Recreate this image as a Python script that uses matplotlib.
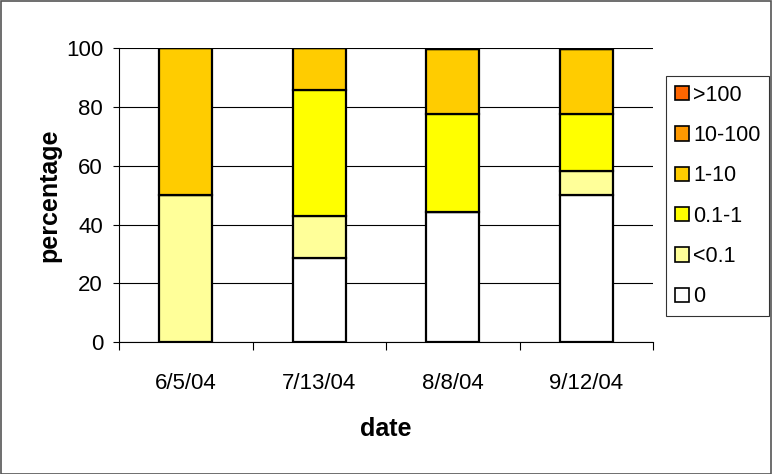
import matplotlib
matplotlib.use("Agg")
import matplotlib.pyplot as plt
from matplotlib.patches import Patch, Rectangle
import numpy as np

plt.rcParams['font.family'] = ['Liberation Sans', 'DejaVu Sans']

dates = ["6/5/04", "7/13/04", "8/8/04", "9/12/04"]
classes = ["0", "<0.1", "0.1-1", "1-10", "10-100", ">100"]
colors = ["#FFFFFF", "#FFFF99", "#FFFF00", "#FFCC00", "#FF9900", "#FF6600"]

pct_0 = [0.0, 28.6, 44.4, 50.0]
pct_lt01 = [50.0, 14.3, 0.0, 8.3]
pct_01_1 = [0.0, 42.9, 33.3, 19.4]
pct_1_10 = [50.0, 14.3, 22.2, 22.2]
pct_10_100 = [0.0, 0.0, 0.0, 0.0]
pct_gt100 = [0.0, 0.0, 0.0, 0.0]
series = [pct_0, pct_lt01, pct_01_1, pct_1_10, pct_10_100, pct_gt100]

fig = plt.figure(figsize=(7.73, 4.74), dpi=100)
fig.patches.append(Rectangle((0.001, 0.001), 0.997, 0.996, transform=fig.transFigure,
                             fill=False, edgecolor="#555555", linewidth=1.2))
ax = fig.add_axes([0.154, 0.2785, 0.6908, 0.6192])

x = np.arange(len(dates))
bottom = np.zeros(len(dates))
for vals, col, lab in zip(series, colors, classes):
    v = np.array(vals)
    ax.bar(x, v, width=0.395, bottom=bottom, color=col, edgecolor="black",
           linewidth=1.6, label=lab, zorder=3)
    bottom += v

ax.set_xlim(-0.5, 3.5)
ax.set_ylim(0, 100)
ax.set_yticks([0, 20, 40, 60, 80, 100])
ax.yaxis.grid(True, color="black", linewidth=0.8, zorder=0)
ax.set_axisbelow(True)

ax.set_xticks(np.arange(-0.5, 4.0, 1.0))
ax.set_xticklabels([])
ax.set_xticks(x, minor=True)
ax.set_xticklabels(dates, minor=True, fontsize=16)
ax.tick_params(axis="x", which="major", direction="out", length=6, width=0.8)
ax.tick_params(axis="x", which="minor", length=0, pad=22)
ax.tick_params(axis="y", direction="out", length=4.5, width=0.8, pad=7, labelsize=16)

for s in ["top", "right"]:
    ax.spines[s].set_visible(False)
for s in ["left", "bottom"]:
    ax.spines[s].set_linewidth(0.8)
    ax.spines[s].set_zorder(4)

ax.set_xlabel("date", fontsize=18, fontweight="bold", labelpad=17)
ax.set_ylabel("percentage", fontsize=18, fontweight="bold", labelpad=3)

handles = [Patch(facecolor=c, edgecolor="black", linewidth=1.2, label=l)
           for c, l in zip(colors, classes)][::-1]
leg = fig.legend(handles=handles, loc="upper right",
                 bbox_to_anchor=(769 / 773, 1 - 76 / 474),
                 fontsize=15.5, frameon=True, fancybox=False, shadow=False,
                 handlelength=0.65, handleheight=0.65, handletextpad=0.2,
                 labelspacing=0.9, borderpad=0.4, borderaxespad=0.0)
leg.get_frame().set_edgecolor("black")
leg.get_frame().set_linewidth(0.8)

fig.savefig("out.png", dpi=100)
